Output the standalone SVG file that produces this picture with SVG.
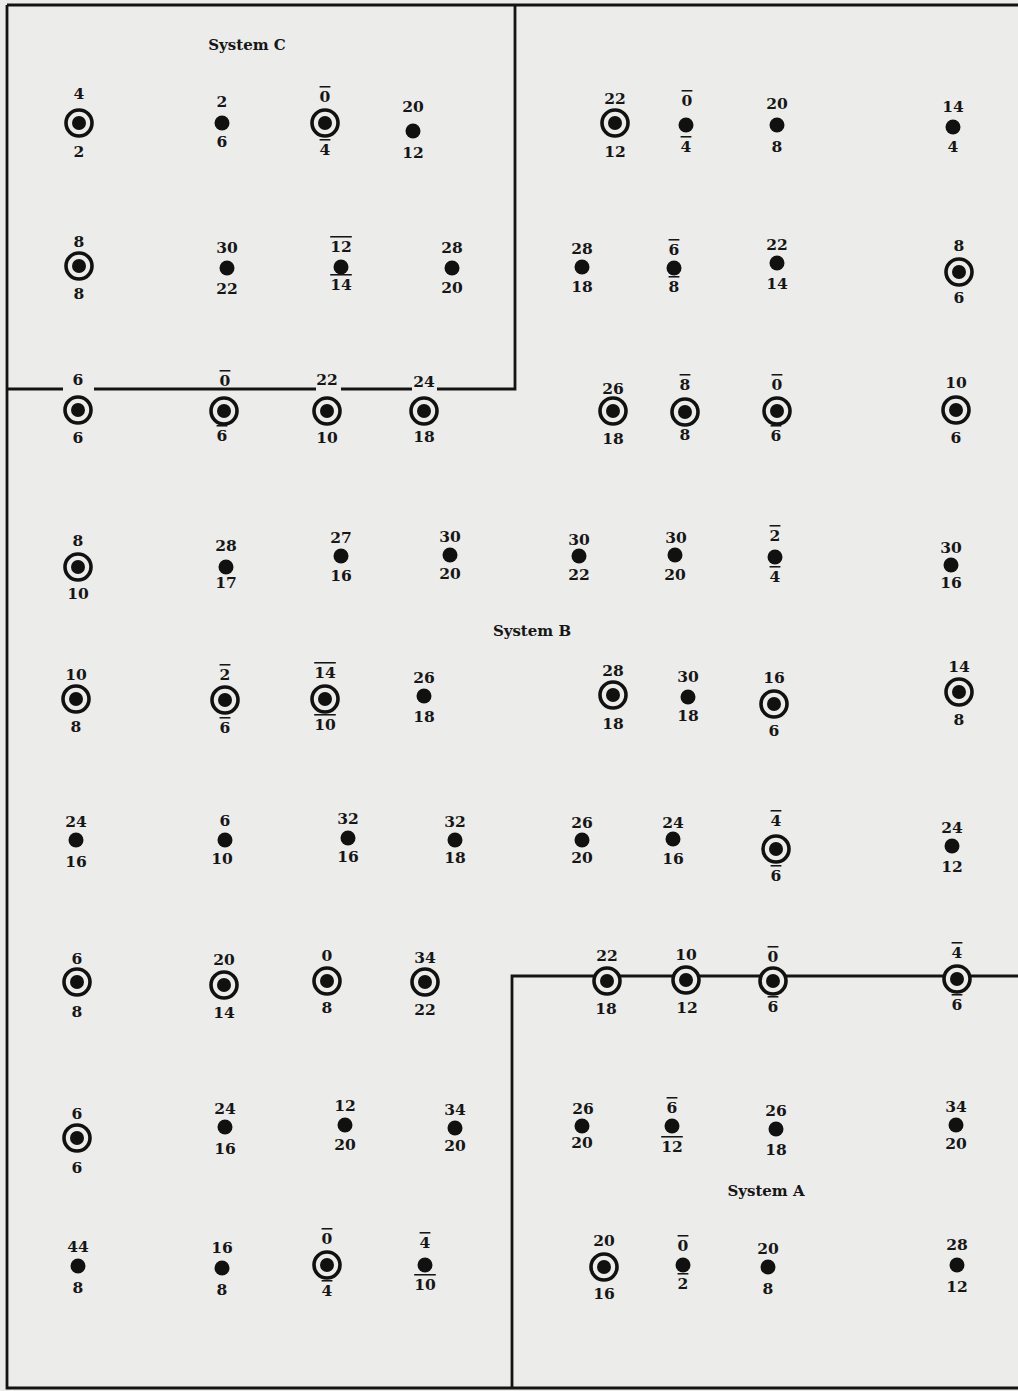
<svg xmlns="http://www.w3.org/2000/svg" width="1018" height="1391" viewBox="0 0 1018 1391">
<style>
.bg{fill:#ececea}
.ln{fill:none;stroke:#141414;stroke-width:2.8}
.ring{fill:#ececea;stroke:#111;stroke-width:3.6}
.dot{fill:#111}
text{font-family:"DejaVu Serif","Liberation Serif",serif;font-weight:bold;font-size:15.5px;fill:#161616;text-anchor:middle}
.ov{text-decoration:overline}
.ttl{font-size:15px}
</style>
<rect class="bg" x="0" y="0" width="1018" height="1391"/>
<g id="boundaries">
<path class="ln" d="M7,5 H1018 M7,5 V1388 H1018"/>
<path class="ln" d="M515,5 V389 H437 M412,389 H341 M316,389 H94 M63,389 H7"/>
<path class="ln" d="M1018,976 H512 V1388"/>
</g>
<g id="labels">
<text class="ttl" x="247" y="50">System C</text>
<text class="ttl" x="532" y="636">System B</text>
<text class="ttl" x="766" y="1196">System A</text>
</g>
<!-- Row 1 -->
<g id="n-r1c1"><circle class="ring" cx="79" cy="123" r="13"/><circle class="dot" cx="79" cy="123" r="7"/><text x="79" y="99">4</text><text x="79" y="157">2</text></g>
<g id="n-r1c2"><circle class="dot" cx="222" cy="123" r="7.5"/><text x="222" y="107">2</text><text x="222" y="147">6</text></g>
<g id="n-r1c3"><circle class="ring" cx="325" cy="123" r="13"/><circle class="dot" cx="325" cy="123" r="7"/><text class="ov" x="325" y="102">0</text><text class="ov" x="325" y="155">4</text></g>
<g id="n-r1c4"><circle class="dot" cx="413" cy="131" r="7.5"/><text x="413" y="112">20</text><text x="413" y="158">12</text></g>
<g id="n-r1c5"><circle class="ring" cx="615" cy="123" r="13"/><circle class="dot" cx="615" cy="123" r="7"/><text x="615" y="104">22</text><text x="615" y="157">12</text></g>
<g id="n-r1c6"><circle class="dot" cx="686" cy="125" r="7.5"/><text class="ov" x="687" y="106">0</text><text class="ov" x="686" y="152">4</text></g>
<g id="n-r1c7"><circle class="dot" cx="777" cy="125" r="7.5"/><text x="777" y="109">20</text><text x="777" y="152">8</text></g>
<g id="n-r1c8"><circle class="dot" cx="953" cy="127" r="7.5"/><text x="953" y="112">14</text><text x="953" y="152">4</text></g>
<!-- Row 2 -->
<g id="n-r2c1"><circle class="ring" cx="79" cy="266" r="13"/><circle class="dot" cx="79" cy="266" r="7"/><text x="79" y="247">8</text><text x="79" y="299">8</text></g>
<g id="n-r2c2"><circle class="dot" cx="227" cy="268" r="7.5"/><text x="227" y="253">30</text><text x="227" y="294">22</text></g>
<g id="n-r2c3"><circle class="dot" cx="341" cy="267" r="7.5"/><text class="ov" x="341" y="252">12</text><text class="ov" x="341" y="290">14</text></g>
<g id="n-r2c4"><circle class="dot" cx="452" cy="268" r="7.5"/><text x="452" y="253">28</text><text x="452" y="293">20</text></g>
<g id="n-r2c5"><circle class="dot" cx="582" cy="267" r="7.5"/><text x="582" y="254">28</text><text x="582" y="292">18</text></g>
<g id="n-r2c6"><circle class="dot" cx="674" cy="268" r="7.5"/><text class="ov" x="674" y="255">6</text><text class="ov" x="674" y="292">8</text></g>
<g id="n-r2c7"><circle class="dot" cx="777" cy="263" r="7.5"/><text x="777" y="250">22</text><text x="777" y="289">14</text></g>
<g id="n-r2c8"><circle class="ring" cx="959" cy="272" r="13"/><circle class="dot" cx="959" cy="272" r="7"/><text x="959" y="251">8</text><text x="959" y="303">6</text></g>
<!-- Row 3 -->
<g id="n-r3c1"><circle class="ring" cx="78" cy="410" r="13"/><circle class="dot" cx="78" cy="410" r="7"/><text x="78" y="385">6</text><text x="78" y="443">6</text></g>
<g id="n-r3c2"><circle class="ring" cx="224" cy="411" r="13"/><circle class="dot" cx="224" cy="411" r="7"/><text class="ov" x="225" y="386">0</text><text class="ov" x="222" y="441">6</text></g>
<g id="n-r3c3"><circle class="ring" cx="327" cy="411" r="13"/><circle class="dot" cx="327" cy="411" r="7"/><text x="327" y="385">22</text><text x="327" y="443">10</text></g>
<g id="n-r3c4"><circle class="ring" cx="424" cy="411" r="13"/><circle class="dot" cx="424" cy="411" r="7"/><text x="424" y="387">24</text><text x="424" y="442">18</text></g>
<g id="n-r3c5"><circle class="ring" cx="613" cy="411" r="13"/><circle class="dot" cx="613" cy="411" r="7"/><text x="613" y="394">26</text><text x="613" y="444">18</text></g>
<g id="n-r3c6"><circle class="ring" cx="685" cy="412" r="13"/><circle class="dot" cx="685" cy="412" r="7"/><text class="ov" x="685" y="390">8</text><text class="ov" x="685" y="440">8</text></g>
<g id="n-r3c7"><circle class="ring" cx="777" cy="411" r="13"/><circle class="dot" cx="777" cy="411" r="7"/><text class="ov" x="777" y="390">0</text><text class="ov" x="776" y="441">6</text></g>
<g id="n-r3c8"><circle class="ring" cx="956" cy="410" r="13"/><circle class="dot" cx="956" cy="410" r="7"/><text x="956" y="388">10</text><text x="956" y="443">6</text></g>
<!-- Row 4 -->
<g id="n-r4c1"><circle class="ring" cx="78" cy="567" r="13"/><circle class="dot" cx="78" cy="567" r="7"/><text x="78" y="546">8</text><text x="78" y="599">10</text></g>
<g id="n-r4c2"><circle class="dot" cx="226" cy="567" r="7.5"/><text x="226" y="551">28</text><text x="226" y="588">17</text></g>
<g id="n-r4c3"><circle class="dot" cx="341" cy="556" r="7.5"/><text x="341" y="543">27</text><text x="341" y="581">16</text></g>
<g id="n-r4c4"><circle class="dot" cx="450" cy="555" r="7.5"/><text x="450" y="542">30</text><text x="450" y="579">20</text></g>
<g id="n-r4c5"><circle class="dot" cx="579" cy="556" r="7.5"/><text x="579" y="545">30</text><text x="579" y="580">22</text></g>
<g id="n-r4c6"><circle class="dot" cx="675" cy="555" r="7.5"/><text x="676" y="543">30</text><text x="675" y="580">20</text></g>
<g id="n-r4c7"><circle class="dot" cx="775" cy="557" r="7.5"/><text class="ov" x="775" y="541">2</text><text class="ov" x="775" y="582">4</text></g>
<g id="n-r4c8"><circle class="dot" cx="951" cy="565" r="7.5"/><text x="951" y="553">30</text><text x="951" y="588">16</text></g>
<!-- Row 5 -->
<g id="n-r5c1"><circle class="ring" cx="76" cy="699" r="13"/><circle class="dot" cx="76" cy="699" r="7"/><text x="76" y="680">10</text><text x="76" y="732">8</text></g>
<g id="n-r5c2"><circle class="ring" cx="225" cy="700" r="13"/><circle class="dot" cx="225" cy="700" r="7"/><text class="ov" x="225" y="680">2</text><text class="ov" x="225" y="733">6</text></g>
<g id="n-r5c3"><circle class="ring" cx="325" cy="699" r="13"/><circle class="dot" cx="325" cy="699" r="7"/><text class="ov" x="325" y="678">14</text><text class="ov" x="325" y="730">10</text></g>
<g id="n-r5c4"><circle class="dot" cx="424" cy="696" r="7.5"/><text x="424" y="683">26</text><text x="424" y="722">18</text></g>
<g id="n-r5c5"><circle class="ring" cx="613" cy="695" r="13"/><circle class="dot" cx="613" cy="695" r="7"/><text x="613" y="676">28</text><text x="613" y="729">18</text></g>
<g id="n-r5c6"><circle class="dot" cx="688" cy="697" r="7.5"/><text x="688" y="682">30</text><text x="688" y="721">18</text></g>
<g id="n-r5c7"><circle class="ring" cx="774" cy="704" r="13"/><circle class="dot" cx="774" cy="704" r="7"/><text x="774" y="683">16</text><text x="774" y="736">6</text></g>
<g id="n-r5c8"><circle class="ring" cx="959" cy="692" r="13"/><circle class="dot" cx="959" cy="692" r="7"/><text x="959" y="672">14</text><text x="959" y="725">8</text></g>
<!-- Row 6 -->
<g id="n-r6c1"><circle class="dot" cx="76" cy="840" r="7.5"/><text x="76" y="827">24</text><text x="76" y="867">16</text></g>
<g id="n-r6c2"><circle class="dot" cx="225" cy="840" r="7.5"/><text x="225" y="826">6</text><text x="222" y="864">10</text></g>
<g id="n-r6c3"><circle class="dot" cx="348" cy="838" r="7.5"/><text x="348" y="824">32</text><text x="348" y="862">16</text></g>
<g id="n-r6c4"><circle class="dot" cx="455" cy="840" r="7.5"/><text x="455" y="827">32</text><text x="455" y="863">18</text></g>
<g id="n-r6c5"><circle class="dot" cx="582" cy="840" r="7.5"/><text x="582" y="828">26</text><text x="582" y="863">20</text></g>
<g id="n-r6c6"><circle class="dot" cx="673" cy="839" r="7.5"/><text x="673" y="828">24</text><text x="673" y="864">16</text></g>
<g id="n-r6c7"><circle class="ring" cx="776" cy="849" r="13"/><circle class="dot" cx="776" cy="849" r="7"/><text class="ov" x="776" y="826">4</text><text class="ov" x="776" y="881">6</text></g>
<g id="n-r6c8"><circle class="dot" cx="952" cy="846" r="7.5"/><text x="952" y="833">24</text><text x="952" y="872">12</text></g>
<!-- Row 7 -->
<g id="n-r7c1"><circle class="ring" cx="77" cy="982" r="13"/><circle class="dot" cx="77" cy="982" r="7"/><text x="77" y="964">6</text><text x="77" y="1017">8</text></g>
<g id="n-r7c2"><circle class="ring" cx="224" cy="985" r="13"/><circle class="dot" cx="224" cy="985" r="7"/><text x="224" y="965">20</text><text x="224" y="1018">14</text></g>
<g id="n-r7c3"><circle class="ring" cx="327" cy="981" r="13"/><circle class="dot" cx="327" cy="981" r="7"/><text x="327" y="961">0</text><text x="327" y="1013">8</text></g>
<g id="n-r7c4"><circle class="ring" cx="425" cy="982" r="13"/><circle class="dot" cx="425" cy="982" r="7"/><text x="425" y="963">34</text><text x="425" y="1015">22</text></g>
<g id="n-r7c5"><circle class="ring" cx="607" cy="981" r="13"/><circle class="dot" cx="607" cy="981" r="7"/><text x="607" y="961">22</text><text x="606" y="1014">18</text></g>
<g id="n-r7c6"><circle class="ring" cx="686" cy="980" r="13"/><circle class="dot" cx="686" cy="980" r="7"/><text x="686" y="960">10</text><text x="687" y="1013">12</text></g>
<g id="n-r7c7"><circle class="ring" cx="773" cy="981" r="13"/><circle class="dot" cx="773" cy="981" r="7"/><text class="ov" x="773" y="962">0</text><text class="ov" x="773" y="1012">6</text></g>
<g id="n-r7c8"><circle class="ring" cx="957" cy="979" r="13"/><circle class="dot" cx="957" cy="979" r="7"/><text class="ov" x="957" y="958">4</text><text class="ov" x="957" y="1010">6</text></g>
<!-- Row 8 -->
<g id="n-r8c1"><circle class="ring" cx="77" cy="1138" r="13"/><circle class="dot" cx="77" cy="1138" r="7"/><text x="77" y="1119">6</text><text x="77" y="1173">6</text></g>
<g id="n-r8c2"><circle class="dot" cx="225" cy="1127" r="7.5"/><text x="225" y="1114">24</text><text x="225" y="1154">16</text></g>
<g id="n-r8c3"><circle class="dot" cx="345" cy="1125" r="7.5"/><text x="345" y="1111">12</text><text x="345" y="1150">20</text></g>
<g id="n-r8c4"><circle class="dot" cx="455" cy="1128" r="7.5"/><text x="455" y="1115">34</text><text x="455" y="1151">20</text></g>
<g id="n-r8c5"><circle class="dot" cx="582" cy="1126" r="7.5"/><text x="583" y="1114">26</text><text x="582" y="1148">20</text></g>
<g id="n-r8c6"><circle class="dot" cx="672" cy="1126" r="7.5"/><text class="ov" x="672" y="1113">6</text><text class="ov" x="672" y="1152">12</text></g>
<g id="n-r8c7"><circle class="dot" cx="776" cy="1129" r="7.5"/><text x="776" y="1116">26</text><text x="776" y="1155">18</text></g>
<g id="n-r8c8"><circle class="dot" cx="956" cy="1125" r="7.5"/><text x="956" y="1112">34</text><text x="956" y="1149">20</text></g>
<!-- Row 9 -->
<g id="n-r9c1"><circle class="dot" cx="78" cy="1266" r="7.5"/><text x="78" y="1252">44</text><text x="78" y="1293">8</text></g>
<g id="n-r9c2"><circle class="dot" cx="222" cy="1268" r="7.5"/><text x="222" y="1253">16</text><text x="222" y="1295">8</text></g>
<g id="n-r9c3"><circle class="ring" cx="327" cy="1265" r="13"/><circle class="dot" cx="327" cy="1265" r="7"/><text class="ov" x="327" y="1244">0</text><text class="ov" x="327" y="1296">4</text></g>
<g id="n-r9c4"><circle class="dot" cx="425" cy="1265" r="7.5"/><text class="ov" x="425" y="1248">4</text><text class="ov" x="425" y="1290">10</text></g>
<g id="n-r9c5"><circle class="ring" cx="604" cy="1267" r="13"/><circle class="dot" cx="604" cy="1267" r="7"/><text x="604" y="1246">20</text><text x="604" y="1299">16</text></g>
<g id="n-r9c6"><circle class="dot" cx="683" cy="1265" r="7.5"/><text class="ov" x="683" y="1251">0</text><text class="ov" x="683" y="1289">2</text></g>
<g id="n-r9c7"><circle class="dot" cx="768" cy="1267" r="7.5"/><text x="768" y="1254">20</text><text x="768" y="1294">8</text></g>
<g id="n-r9c8"><circle class="dot" cx="957" cy="1265" r="7.5"/><text x="957" y="1250">28</text><text x="957" y="1292">12</text></g>
</svg>
